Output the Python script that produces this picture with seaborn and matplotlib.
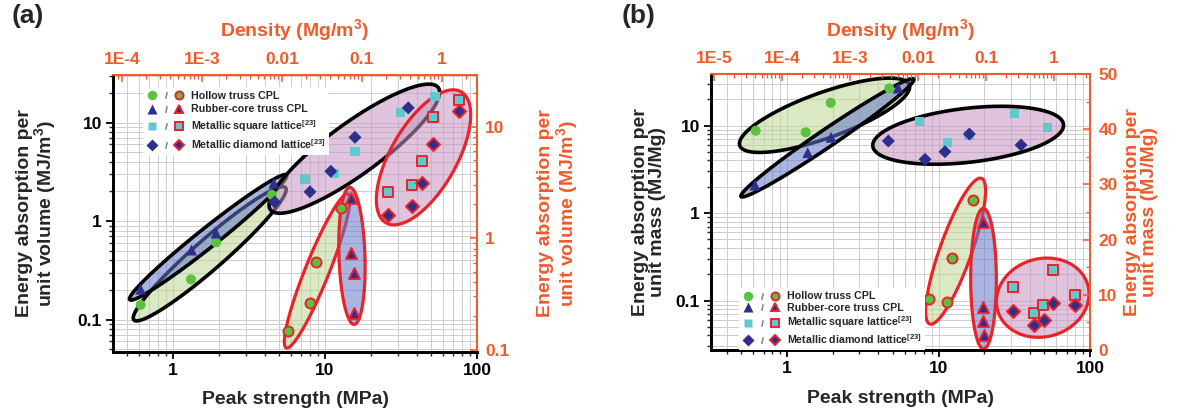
import numpy as np
import matplotlib
matplotlib.use("Agg")
import matplotlib.pyplot as plt
import seaborn as sns
from matplotlib.lines import Line2D
from matplotlib.patches import Polygon
from matplotlib.colors import to_rgba
from matplotlib.legend_handler import HandlerTuple
from matplotlib.ticker import FixedLocator, FixedFormatter, LogLocator, NullFormatter, MultipleLocator

# ---------------- data ----------------
categories = ["Hollow truss CPL", "Rubber-core truss CPL",
              r"Metallic square lattice$^{\mathbf{[23]}}$",
              r"Metallic diamond lattice$^{\mathbf{[23]}}$"]

# Panel (a) - plain markers: density (top axis) vs energy per volume (left axis)
a_hollow_density = [1.71e-4, 7.3e-4, 1.5e-3, 7.5e-3]
a_hollow_energy = [0.141, 0.256, 0.608, 1.84]
a_rubber_density = [1.71e-4, 7.4e-4, 1.5e-3, 7.9e-3]
a_rubber_energy = [0.203, 0.508, 0.755, 2.43]
a_square_density = [0.0194, 0.045, 0.0818, 0.305, 0.818]
a_square_energy = [2.67, 3.05, 5.05, 12.6, 18.3]
a_diamond_density = [8.1e-3, 0.0224, 0.0408, 0.0818, 0.379]
a_diamond_energy = [1.56, 1.98, 3.2, 7.08, 14.1]
# Panel (a) - red-edged markers: peak strength (bottom) vs energy per volume (right axis)
a_hollow_strength = [5.68, 7.93, 8.69, 12.7]
a_hollow_energy_r = [0.146, 0.263, 0.613, 1.85]
a_rubber_strength = [14.8, 14.8, 15.4, 15.6]
a_rubber_energy_r = [2.27, 0.729, 0.482, 0.211]
a_square_strength = [25.9, 37.4, 43.3, 51.6, 76.5]
a_square_energy_r = [2.60, 2.99, 4.90, 12.1, 17.3]
a_diamond_strength = [26.1, 37.2, 43.7, 51.6, 76.5]
a_diamond_energy_r = [1.61, 1.95, 3.13, 6.92, 13.9]

# Panel (b) - plain markers: density (top axis) vs energy per mass (left axis)
b_hollow_density = [4.1e-5, 2.23e-4, 5.2e-4, 3.78e-3]
b_hollow_energy = [8.72, 8.36, 18.2, 26.6]
b_rubber_density = [4.0e-5, 2.39e-4, 5.26e-4, 5.1e-3]
b_rubber_energy = [2.09, 4.89, 7.33, 26.8]
b_square_density = [0.01045, 0.0273, 0.0562, 0.261, 0.808]
b_square_energy = [11.05, 6.36, 7.65, 13.8, 9.53]
b_diamond_density = [3.66e-3, 0.01268, 0.0249, 0.0569, 0.327]
b_diamond_energy = [6.65, 4.11, 5.02, 8.0, 5.99]
# Panel (b) - red-edged markers: peak strength (bottom) vs energy per mass (right axis, linear)
b_hollow_strength = [8.66, 11.4, 12.3, 17.0]
b_hollow_energy_r = [9.18, 8.75, 16.6, 27.2]
b_rubber_strength = [19.8, 19.6, 19.6, 20.1]
b_rubber_energy_r = [23.1, 7.74, 5.31, 2.72]
b_square_strength = [31.2, 42.9, 49.2, 56.7, 79.6]
b_square_energy_r = [11.36, 6.65, 8.15, 14.5, 9.96]
b_diamond_strength = [31.2, 42.9, 49.7, 57.3, 79.6]
b_diamond_energy_r = [7.07, 4.53, 5.43, 8.46, 8.15]

# tick values / labels
bottom_ticks = [1, 10, 100]
bottom_labels = ["1", "10", "100"]
left_ticks = [0.1, 1, 10]
left_labels = ["0.1", "1", "10"]
a_top_ticks = [1e-4, 1e-3, 1e-2, 0.1, 1]
a_top_labels = ["1E-4", "1E-3", "0.01", "0.1", "1"]
b_top_ticks = [1e-5, 1e-4, 1e-3, 1e-2, 0.1, 1]
b_top_labels = ["1E-5", "1E-4", "1E-3", "0.01", "0.1", "1"]
a_right_ticks = [0.1, 1, 10]
a_right_labels = ["0.1", "1", "10"]
b_right_ticks = [0, 10, 20, 30, 40, 50]
b_right_labels = ["0", "10", "20", "30", "40", "50"]

# ---------------- style ----------------
sns.set_style("white")
plt.rcParams["font.family"] = ["Liberation Sans", "DejaVu Sans"]
plt.rcParams["font.weight"] = "bold"
plt.rcParams["axes.labelweight"] = "bold"
plt.rcParams["mathtext.fontset"] = "custom"
plt.rcParams["mathtext.rm"] = "Liberation Sans"
plt.rcParams["mathtext.bf"] = "Liberation Sans:bold"

ORANGE = "#f15a29"
RED = "#e8232a"
NAVY = "#2e2e8c"
GREEN = "#5cc23e"
CYAN = "#62c8cf"
FILL_GREEN = "#bdd794"
FILL_BLUE = "#6477ca"
FILL_PURPLE = "#c795c3"
marker_styles = [("o", GREEN, 52), ("^", NAVY, 62), ("s", CYAN, 44), ("D", NAVY, 44)]
fills = [FILL_GREEN, FILL_BLUE, FILL_PURPLE]

fig = plt.figure(figsize=(11.77, 4.09), dpi=100)


def draw_ellipse(src_ax, xs, ys, dst_ax, pad_major, pad_minor, face, edge, lw):
    pts = src_ax.transData.transform(np.column_stack([xs, ys]))
    c = pts.mean(axis=0)
    d = pts - c
    w, v = np.linalg.eigh(np.cov(d.T))
    u = v[:, -1]
    perp = np.array([-u[1], u[0]])
    pa, pp = d @ u, d @ perp
    center = c + (pa.max() + pa.min()) / 2 * u + (pp.max() + pp.min()) / 2 * perp
    a = (pa.max() - pa.min()) / 2 + pad_major
    b = (pp.max() - pp.min()) / 2 + pad_minor
    t = np.linspace(0, 2 * np.pi, 240)
    poly = center + a * np.cos(t)[:, None] * u + b * np.sin(t)[:, None] * perp
    verts = dst_ax.transData.inverted().transform(poly)
    dst_ax.add_patch(Polygon(verts, closed=True, facecolor=to_rgba(face, 0.55),
                             edgecolor=edge, lw=lw, zorder=2))


def make_panel(rect, xlim, ylim, tlim, rlim, r_log, plain, red, top_ticks, top_labels,
               right_ticks, right_labels, pads_black, pads_red, ylabel, leg_anchor,
               leg_spacing, lab_pos):
    ax = fig.add_axes(rect)
    ax.set_xscale("log")
    ax.set_yscale("log")
    axT = ax.twiny()
    axR = ax.twinx()
    axT.set_xscale("log")
    if r_log:
        axR.set_yscale("log")

    for (xs, ys), (m, col, s) in zip(plain, marker_styles):
        sns.scatterplot(x=xs, y=ys, ax=axT, marker=m, color=col, s=s,
                        edgecolor="none", linewidth=0, zorder=5, legend=False)
    for (xs, ys), (m, col, s) in zip(red, marker_styles):
        sns.scatterplot(x=xs, y=ys, ax=axR, marker=m, color=col, s=s,
                        edgecolor=RED, linewidth=1.4, zorder=5, legend=False)

    ax.set_xlim(*xlim); ax.set_ylim(*ylim)
    axT.set_xlim(*tlim); axR.set_ylim(*rlim)

    # ticks
    ax.xaxis.set_major_locator(FixedLocator(bottom_ticks))
    ax.xaxis.set_major_formatter(FixedFormatter(bottom_labels))
    ax.xaxis.set_minor_locator(LogLocator(base=10, subs=np.arange(2, 10)))
    ax.xaxis.set_minor_formatter(NullFormatter())
    ax.yaxis.set_major_locator(FixedLocator(left_ticks))
    ax.yaxis.set_major_formatter(FixedFormatter(left_labels))
    ax.yaxis.set_minor_locator(LogLocator(base=10, subs=np.arange(2, 10)))
    ax.yaxis.set_minor_formatter(NullFormatter())
    axT.xaxis.set_major_locator(FixedLocator(top_ticks))
    axT.xaxis.set_major_formatter(FixedFormatter(top_labels))
    axT.xaxis.set_minor_locator(LogLocator(base=10, subs=np.arange(2, 10)))
    axT.xaxis.set_minor_formatter(NullFormatter())
    axR.yaxis.set_major_locator(FixedLocator(right_ticks))
    axR.yaxis.set_major_formatter(FixedFormatter(right_labels))
    if r_log:
        axR.yaxis.set_minor_locator(LogLocator(base=10, subs=np.arange(2, 10)))
        axR.yaxis.set_minor_formatter(NullFormatter())
    else:
        axR.yaxis.set_minor_locator(MultipleLocator(5))

    ax.tick_params(axis="both", which="major", direction="out", length=5, width=1.3,
                   labelsize=12.5, colors="black", pad=3)
    ax.tick_params(axis="both", which="minor", direction="out", length=3, width=1.0)
    axT.tick_params(axis="x", which="major", direction="in", length=5, width=1.1,
                    colors=ORANGE, labelsize=12.5, pad=6)
    axT.tick_params(axis="x", which="minor", direction="in", length=3, width=0.9, colors=ORANGE)
    axR.tick_params(axis="y", which="major", direction="in", length=5, width=1.1,
                    colors=ORANGE, labelsize=12.5, pad=6)
    axR.tick_params(axis="y", which="minor", direction="in", length=3, width=0.9, colors=ORANGE)

    for a_ in (ax, axT, axR):
        a_.spines["left"].set_color("black"); a_.spines["left"].set_linewidth(1.8)
        a_.spines["bottom"].set_color("black"); a_.spines["bottom"].set_linewidth(1.8)
        a_.spines["top"].set_color(ORANGE); a_.spines["top"].set_linewidth(1.3)
        a_.spines["right"].set_color(ORANGE); a_.spines["right"].set_linewidth(1.3)

    ax.set_axisbelow(True)
    ax.grid(which="both", color="#cdcdcd", lw=0.7)

    # ellipses fitted around each group (metallic square + diamond share one)
    black_groups = [plain[0], plain[1],
                    (list(plain[2][0]) + list(plain[3][0]), list(plain[2][1]) + list(plain[3][1]))]
    red_groups = [red[0], red[1],
                  (list(red[2][0]) + list(red[3][0]), list(red[2][1]) + list(red[3][1]))]
    for (xs, ys), face, (pm, pn) in zip(black_groups, fills, pads_black):
        draw_ellipse(axT, xs, ys, ax, pm, pn, face, "black", 2.6)
    for (xs, ys), face, (pm, pn) in zip(red_groups, fills, pads_red):
        draw_ellipse(axR, xs, ys, ax, pm, pn, face, RED, 2.3)

    # labels
    ax.set_xlabel("Peak strength (MPa)", fontsize=14)
    ax.xaxis.set_label_coords(0.5, lab_pos[0])
    ax.set_ylabel(ylabel[0], fontsize=14, linespacing=1.0)
    ax.yaxis.set_label_coords(lab_pos[1], 0.5)
    axT.set_xlabel(r"Density (Mg/m$^{\mathbf{3}}$)", fontsize=14, color=ORANGE)
    axT.xaxis.set_label_coords(0.5, lab_pos[2])
    axR.set_ylabel(ylabel[1], fontsize=14, color=ORANGE, linespacing=1.0)
    axR.yaxis.set_label_coords(lab_pos[3], 0.5)

    # legend
    handles = []
    for m, col, s in marker_styles:
        ms = np.sqrt(s) * 0.95
        h1 = Line2D([], [], ls="none", marker=m, markersize=ms, markerfacecolor=col,
                    markeredgecolor="none")
        h2 = Line2D([], [], ls="none", marker="$/$", markersize=4.5, color="#777777",
                    markeredgewidth=0.3)
        h3 = Line2D([], [], ls="none", marker=m, markersize=ms * 0.85, markerfacecolor=col,
                    markeredgecolor=RED, markeredgewidth=1.4)
        handles.append((h1, h2, h3))
    leg = axR.legend(handles, categories, handler_map={tuple: HandlerTuple(ndivide=None, pad=0.3)},
                     loc="upper left", bbox_to_anchor=leg_anchor, fontsize=7.7,
                     handlelength=3.5, labelspacing=leg_spacing, borderpad=0.35, handletextpad=0.6,
                     frameon=True, fancybox=False)
    leg.get_frame().set_facecolor("white")
    leg.get_frame().set_edgecolor("none")
    leg.get_frame().set_alpha(1)
    return ax


W, H = 1177.0, 409.0
# panel (a)
make_panel(rect=[113 / W, (H - 352) / H, 364 / W, 277 / H],
           xlim=(0.403, 100), ylim=(0.0468, 30.4), tlim=(7.72e-5, 2.74), rlim=(0.095, 29.0),
           r_log=True,
           plain=[(a_hollow_density, a_hollow_energy), (a_rubber_density, a_rubber_energy),
                  (a_square_density, a_square_energy), (a_diamond_density, a_diamond_energy)],
           red=[(a_hollow_strength, a_hollow_energy_r), (a_rubber_strength, a_rubber_energy_r),
                (a_square_strength, a_square_energy_r), (a_diamond_strength, a_diamond_energy_r)],
           top_ticks=a_top_ticks, top_labels=a_top_labels,
           right_ticks=a_right_ticks, right_labels=a_right_labels,
           pads_black=[(15, 8), (15, 8), (8, 17)],
           pads_red=[(16, 7), (11, 12), (8, 19)],
           ylabel=("Energy absorption per\nunit volume (MJ/m$^{\\mathbf{3}}$)",
                   "Energy absorption per\nunit volume (MJ/m$^{\\mathbf{3}}$)"),
           leg_anchor=(0.068, 0.975), leg_spacing=0.32,
           lab_pos=(-0.14, -0.148, 1.137, 1.165))

# panel (b)
make_panel(rect=[711 / W, (H - 350) / H, 379 / W, 276 / H],
           xlim=(0.315, 100), ylim=(0.0272, 38.8), tlim=(9.03e-6, 3.38), rlim=(0, 50),
           r_log=False,
           plain=[(b_hollow_density, b_hollow_energy), (b_rubber_density, b_rubber_energy),
                  (b_square_density, b_square_energy), (b_diamond_density, b_diamond_energy)],
           red=[(b_hollow_strength, b_hollow_energy_r), (b_rubber_strength, b_rubber_energy_r),
                (b_square_strength, b_square_energy_r), (b_diamond_strength, b_diamond_energy_r)],
           top_ticks=b_top_ticks, top_labels=b_top_labels,
           right_ticks=b_right_ticks, right_labels=b_right_labels,
           pads_black=[(20, 13), (18, 7), (16, 8)],
           pads_red=[(23, 7), (14, 12), (15, 15)],
           ylabel=("Energy absorption per\nunit mass (MJ/Mg)",
                   "Energy absorption per\nunit mass (MJ/Mg)"),
           leg_anchor=(0.06, 0.245), leg_spacing=0.15,
           lab_pos=(-0.145, -0.119, 1.134, 1.09))

fig.text(12 / W, 1 - 4 / H, "(a)", fontsize=19, fontweight="bold", va="top", ha="left")
fig.text(622 / W, 1 - 4 / H, "(b)", fontsize=19, fontweight="bold", va="top", ha="left")

fig.savefig("out.png", dpi=100)
